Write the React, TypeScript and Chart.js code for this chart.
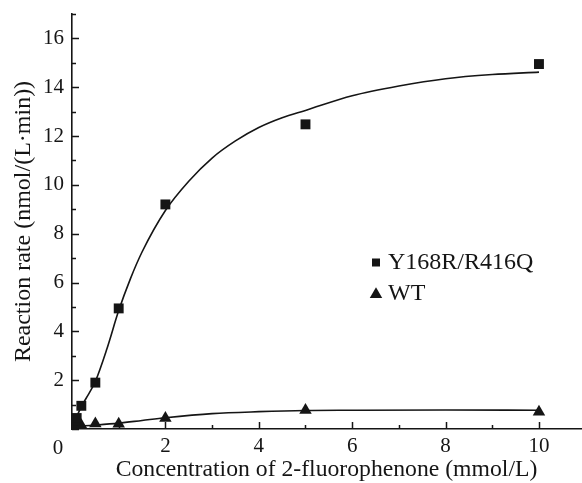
import React, { useEffect, useRef } from 'react';
import { Chart, registerables } from 'chart.js';

Chart.register(...registerables);

// Measured substrate concentrations (mmol/L)
const concentrations = [0.05, 0.1, 0.2, 0.5, 1, 2, 5, 10];
// Measured reaction rates (nmol/(L·min))
const mutantRates = [0.35, 0.45, 0.95, 1.9, 4.94, 9.2, 12.48, 14.95];
const wildTypeRates = [0.08, 0.12, 0.15, 0.22, 0.21, 0.44, 0.77, 0.7];

// Fitted kinetic curves
const mutantFitX = [0.05, 0.1, 0.2, 0.3, 0.5, 0.75, 1, 1.25, 1.5, 2, 2.5, 3, 3.5, 4, 4.5, 5, 6, 7, 8, 9, 10];
const mutantFitY = [0.3, 0.5, 0.92, 1.25, 1.95, 3.3, 4.85, 6.15, 7.25, 8.95, 10.15, 11.1, 11.8, 12.35, 12.75, 13.05, 13.65, 14.05, 14.35, 14.52, 14.62];
const wildTypeFitX = [0.05, 0.2, 0.5, 1, 1.5, 2, 3, 4, 5, 6, 8, 10];
const wildTypeFitY = [0.08, 0.12, 0.16, 0.24, 0.35, 0.46, 0.63, 0.71, 0.76, 0.77, 0.78, 0.77];

const seriesNames = ['Y168R/R416Q', 'WT'];
const xTitle = 'Concentration of 2-fluorophenone (mmol/L)';
const yTitle = 'Reaction rate (nmol/(L·min))';

const ink = '#151515';
const serif = '"Liberation Serif", "Times New Roman", serif';

const toPoints = (xs: number[], ys: number[]) => xs.map((x, i) => ({ x, y: ys[i] }));

// Fixed axis band sizes, without label overhang padding
const fixSize = (prop: 'width' | 'height', size: number) => (scale: any) => {
  scale[prop] = size;
  scale.paddingTop = 0;
  scale.paddingBottom = 0;
  scale.paddingLeft = 0;
  scale.paddingRight = 0;
};

// Inward major/minor tick marks, shared origin label and the legend
const axisDecor = {
  id: 'axisDecor',
  afterDraw(chart: any) {
    const { ctx, chartArea, scales } = chart;
    const xs = scales.x;
    const ys = scales.y;
    ctx.save();
    ctx.strokeStyle = ink;
    ctx.lineWidth = 1.5;
    ctx.beginPath();
    for (let v = 0; v <= xs.max; v += 1) {
      const px = Math.round(xs.getPixelForValue(v)) + 0.5;
      const len = v % 2 === 0 ? 7 : 4;
      ctx.moveTo(px, chartArea.bottom);
      ctx.lineTo(px, chartArea.bottom - len);
    }
    for (let v = 0; v <= ys.max; v += 1) {
      const py = Math.round(ys.getPixelForValue(v)) + 0.5;
      const len = v % 2 === 0 ? 7 : 4;
      ctx.moveTo(chartArea.left, py);
      ctx.lineTo(chartArea.left + len, py);
    }
    ctx.stroke();

    ctx.fillStyle = ink;
    ctx.font = `21px ${serif}`;
    ctx.textAlign = 'center';
    ctx.textBaseline = 'alphabetic';
    ctx.fillText('0', chartArea.left - 14, chartArea.bottom + 25);

    // legend
    const lx = chartArea.left + 304;
    ctx.fillRect(lx - 4, 258.5, 8, 8);
    const r = 7.2;
    const cy = 294.5;
    ctx.beginPath();
    for (let k = 0; k < 3; k++) {
      const a = (k * 2 * Math.PI) / 3;
      const px = lx + Math.sin(a) * r;
      const py = cy - Math.cos(a) * r;
      if (k === 0) ctx.moveTo(px, py);
      else ctx.lineTo(px, py);
    }
    ctx.closePath();
    ctx.fill();
    ctx.font = `24px ${serif}`;
    ctx.textAlign = 'left';
    ctx.fillText(seriesNames[0], lx + 12, 268.5);
    ctx.fillText(seriesNames[1], lx + 12, 299.5);
    ctx.restore();
  },
};

export default function App() {
  const canvasRef = useRef<HTMLCanvasElement | null>(null);

  useEffect(() => {
    const canvas = canvasRef.current;
    if (!canvas) return;
    const chart = new Chart(canvas, {
      type: 'scatter',
      data: {
        datasets: [
          {
            label: seriesNames[0],
            data: toPoints(concentrations, mutantRates),
            pointStyle: 'rect',
            pointRadius: 7,
            backgroundColor: ink,
            borderColor: ink,
            borderWidth: 0,
            showLine: false,
          },
          {
            label: seriesNames[1],
            data: toPoints(concentrations, wildTypeRates),
            pointStyle: 'triangle',
            pointRadius: 7.2,
            backgroundColor: ink,
            borderColor: ink,
            borderWidth: 0,
            showLine: false,
          },
          {
            label: 'mutant fit',
            data: toPoints(mutantFitX, mutantFitY),
            showLine: true,
            pointRadius: 0,
            borderColor: ink,
            borderWidth: 1.6,
            cubicInterpolationMode: 'monotone',
          },
          {
            label: 'wild-type fit',
            data: toPoints(wildTypeFitX, wildTypeFitY),
            showLine: true,
            pointRadius: 0,
            borderColor: ink,
            borderWidth: 1.6,
            cubicInterpolationMode: 'monotone',
          },
        ],
      },
      options: {
        responsive: false,
        animation: false,
        layout: { autoPadding: false, padding: { top: 14, right: 1, left: 0, bottom: 0 } },
        plugins: {
          legend: { display: false },
          tooltip: { enabled: false },
        },
        scales: {
          x: {
            type: 'linear',
            position: 'bottom',
            min: 0,
            max: 10.9,
            grid: { display: false, drawTicks: false },
            border: { display: true, color: ink, width: 1.6 },
            ticks: {
              stepSize: 2,
              includeBounds: false,
              autoSkip: false,
              maxRotation: 0,
              padding: 5,
              color: ink,
              font: { family: serif, size: 21 },
              callback: (v: any) => (v === 0 ? '' : String(v)),
            },
            title: {
              display: true,
              text: xTitle,
              color: ink,
              font: { family: serif, size: 23.7, lineHeight: 1 },
              padding: { top: 0, bottom: 1 },
            },
            afterFit: fixSize('height', 54),
          },
          y: {
            type: 'linear',
            position: 'left',
            min: 0,
            max: 17,
            grid: { display: false, drawTicks: false },
            border: { display: true, color: ink, width: 1.6 },
            ticks: {
              stepSize: 2,
              includeBounds: false,
              autoSkip: false,
              padding: 8,
              color: ink,
              font: { family: serif, size: 21 },
              callback: (v: any) => (v === 0 ? '' : String(v)),
            },
            title: {
              display: true,
              text: yTitle,
              color: ink,
              font: { family: serif, size: 24, lineHeight: 1 },
              padding: { top: 12, bottom: 0 },
            },
            afterFit: fixSize('width', 72),
          },
        },
      },
      plugins: [axisDecor],
    });
    return () => chart.destroy();
  }, []);

  return (
    <div style={{ position: 'absolute', left: 0, top: 0, width: 582, height: 483, background: '#fff' }}>
      <canvas ref={canvasRef} width={582} height={483} style={{ display: 'block' }} />
    </div>
  );
}
